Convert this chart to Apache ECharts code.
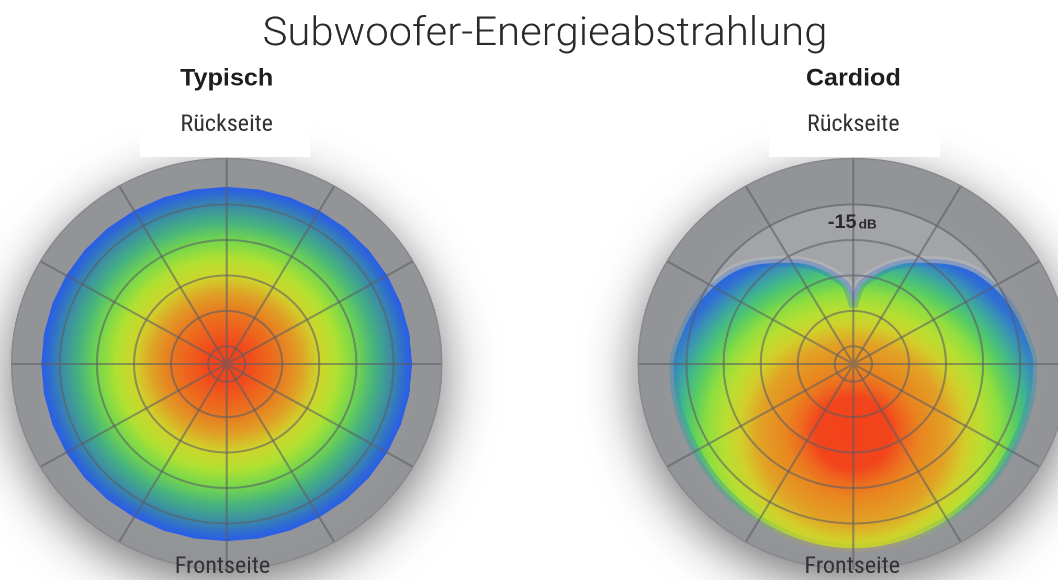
<!DOCTYPE html>
<html><head><meta charset="utf-8">
<script src="https://cdn.jsdelivr.net/npm/echarts@6/dist/echarts.min.js"></script>
<style>
html,body{margin:0;padding:0;background:#fff;overflow:hidden;width:1058px;height:580px}
#chart{width:1011px;height:580px;transform:scaleX(1.0465);transform-origin:0 0;}
</style>
</head><body><div id="chart"></div>
<script>
// ---- texts ----
const chartTitle = 'Subwoofer-Energieabstrahlung';
const panelTitles = ['Typisch', 'Cardiod'];
const rearLabel = 'Rückseite';
const frontLabel = 'Frontseite';
const levelValue = '-15';
const levelUnit = 'dB';

// ---- polar scale (radius in ring units, angle in degrees, 0 = rear/top) ----
const radiusMax = 5.8;
const ringAngles = [0,10,20,30,40,50,60,70,80,90,100,110,120,130,140,150,160,170,180,
                    190,200,210,220,230,240,250,260,270,280,290,300,310,320,330,340,350,360];
const innerLevel = [4.5,4.5,4.5,4.5,4.5,4.5,4.5,4.5,4.5,4.5,4.5,4.5,4.5,4.5,4.5,4.5,4.5,4.5,4.5,
                    4.5,4.5,4.5,4.5,4.5,4.5,4.5,4.5,4.5,4.5,4.5,4.5,4.5,4.5,4.5,4.5,4.5,4.5];

// Typisch (omnidirectional) response
const typischAngles = ringAngles;
const typischLevel = [5.0,5.0,5.0,5.0,5.0,5.0,5.0,5.0,5.0,5.0,5.0,5.0,5.0,5.0,5.0,5.0,5.0,5.0,5.0,
                      5.0,5.0,5.0,5.0,5.0,5.0,5.0,5.0,5.0,5.0,5.0,5.0,5.0,5.0,5.0,5.0,5.0,5.0];

// Cardioid response
const cardAngles = [0,5,10,20,30,40,50,60,70,80,90,100,110,120,130,140,150,160,170,180,
                    190,200,210,220,230,240,250,260,270,280,290,300,310,320,330,340,350,355,360];
const cardLevel = [1.6,2.2,2.45,2.9,3.3,3.7,4.1,4.35,4.55,4.7,4.85,4.87,4.88,4.9,4.95,5.0,5.07,5.13,5.18,5.2,
                   5.18,5.13,5.07,5.0,4.95,4.9,4.88,4.87,4.85,4.7,4.55,4.35,4.1,3.7,3.3,2.9,2.45,2.2,1.6];

// ---- layout (chart space, before horizontal CSS stretch) ----
const centers = [[216.6, 364], [815.4, 364]];
const R = 205.5;
const gridColor = 'rgba(92,93,102,0.58)';
const T = 'rgba(0,0,0,0)';

const leftStops = [
  [0,'#f3421b'],[0.1,'#f2461c'],[0.28,'#eb731f'],[0.4,'#e0a026'],[0.5,'#d0d52b'],
  [0.6,'#b0e132'],[0.7,'#74d74d'],[0.8,'#47b37f'],[0.9,'#3a8aaa'],[0.97,'#2e67d8'],[1,'#2a5ee8']
];
const rightStops = [
  [0,'#f3421b'],[0.18,'#f2451c'],[0.25,'#ee6a1f'],[0.32,'#e9861f'],[0.45,'#e2a226'],
  [0.54,'#d2d02b'],[0.62,'#b8df32'],[0.7,'#8ede40'],[0.77,'#5acd62'],[0.83,'#42b88a'],
  [0.9,'#3a90b8'],[0.95,'#3070d4'],[1,'#2a62e0']
];
const edgeStops = [
  [0,'rgba(40,100,225,0.3)'],[0.3,'rgba(50,140,190,0.35)'],[0.7,'rgba(60,165,150,0.55)'],
  [0.85,'rgba(70,175,130,0.45)'],[0.95,'rgba(150,185,80,0.3)'],[1,'rgba(210,170,50,0.15)']
];

function toData(levels, angles){ return levels.map((r,i)=>[r, angles[i]]); }
function colorStops(s){ return s.map(([o,c])=>({offset:o,color:c})); }

function areaSeries(pi, levels, angles, fill, z, extra){
  return Object.assign({
    type:'line', coordinateSystem:'polar', polarIndex:pi, data:toData(levels, angles),
    showSymbol:false, symbol:'none', silent:true, z:z, animation:false,
    lineStyle:{width:0}, areaStyle:{color:fill, opacity:1}
  }, extra||{});
}

const polar = centers.map(c=>({center:c, radius:R}));
const angleAxis = centers.map((c,i)=>({
  polarIndex:i, type:'value', min:0, max:360, interval:30, startAngle:90, clockwise:true, z:5,
  axisLine:{show:true, lineStyle:{color:'#86878b', width:1.2}},
  axisTick:{show:false}, axisLabel:{show:false},
  splitLine:{show:true, lineStyle:{color:gridColor, width:2}}
}));
const radiusAxis = centers.map((c,i)=>({
  polarIndex:i, type:'value', min:0, max:radiusMax, interval:0.5, z:5,
  axisLine:{show:false}, axisTick:{show:false}, axisLabel:{show:false},
  splitLine:{show:true, lineStyle:{width:2, color:[T,gridColor,T,gridColor,T,gridColor,T,gridColor,T,gridColor,T,T,T]}}
}));

// halo over the rear lobes: the measured cardioid points from 300° round to 60°
const haloIdx = cardAngles.map((a,i)=>i).filter(i=>cardAngles[i]>=300);
const haloIdx2 = cardAngles.map((a,i)=>i).filter(i=>cardAngles[i]<=60 && cardAngles[i]>0);
const haloData = haloIdx.concat(haloIdx2).map(i=>[cardLevel[i], cardAngles[i]]);

const series = [];
centers.forEach((c,i)=>{
  series.push({
    type:'pie', center:c, radius:[0, R], z:0, silent:true, animation:false,
    label:{show:false}, labelLine:{show:false}, data:[{value:1, name:'Gehäuse'}],
    itemStyle:{color:'#95969a', borderColor:'#8a8b8f', borderWidth:1,
      shadowBlur:50, shadowColor:'rgba(0,0,0,0.55)', shadowOffsetY:14}
  });
  series.push(areaSeries(i, innerLevel, ringAngles, '#a3a4a7', 1));
});
series.push(areaSeries(0, typischLevel, typischAngles,
  {type:'radial', x:centers[0][0], y:centers[0][1], r:176.8, global:true, colorStops:colorStops(leftStops)}, 3));
series.push({
  type:'line', coordinateSystem:'polar', polarIndex:1, data:haloData,
  showSymbol:false, symbol:'none', silent:true, smooth:0.35, z:2, animation:false,
  lineStyle:{width:14, color:'rgba(190,190,195,0.45)', cap:'round'}
});
series.push(areaSeries(1, cardLevel, cardAngles,
  {type:'radial', x:centers[1][0], y:433, r:200, global:true, colorStops:colorStops(rightStops)}, 3, {
    smooth:0.35,
    lineStyle:{width:8, color:{type:'linear', x:0, y:262, x2:0, y2:550, global:true, colorStops:colorStops(edgeStops)}}
  }));

function txt(x, y, text, size, weight, family, color){
  return {type:'text', x:x, y:y, z:100, silent:true,
    style:{text:text, fontSize:size, fontWeight:weight, fontFamily:family, fill:color,
           textAlign:'center', textVerticalAlign:'middle'}};
}
const lightFont = "Roboto, 'Liberation Sans', sans-serif";
const narrowFont = "'Liberation Sans Narrow', 'Roboto Condensed', Roboto, sans-serif";
const boldFont = "'Liberation Sans', Arial, sans-serif";

const graphic = [
  {type:'rect', z:90, silent:true, shape:{x:133.8, y:95, width:162.4, height:62}, style:{fill:'#fff'}},
  {type:'rect', z:90, silent:true, shape:{x:734.8, y:95, width:163.4, height:62}, style:{fill:'#fff'}},
  txt(520.8, 35, chartTitle, 40, 300, lightFont, '#2a2a2a'),
  txt(centers[0][0], 79, panelTitles[0], 24, 'bold', boldFont, '#1e1e1e'),
  txt(centers[1][0], 79, panelTitles[1], 24, 'bold', boldFont, '#1e1e1e'),
  txt(centers[0][0], 125, rearLabel, 23, 'normal', narrowFont, '#333'),
  txt(centers[1][0], 125, rearLabel, 23, 'normal', narrowFont, '#333'),
  txt(centers[0][0]-4, 567, frontLabel, 23, 'normal', narrowFont, '#333'),
  txt(centers[1][0]-1, 567, frontLabel, 23, 'normal', narrowFont, '#333'),
  {type:'text', x:centers[1][0]-1, y:223, z:100, silent:true,
   style:{text:'{a|'+levelValue+'}{b|'+levelUnit+'}', textAlign:'center', textVerticalAlign:'middle',
     rich:{a:{fontSize:19, fontWeight:'bold', fontFamily:boldFont, fill:'#2b2b2b', padding:[0,2,0,0]},
           b:{fontSize:13, fontWeight:'bold', fontFamily:boldFont, fill:'#2b2b2b', padding:[4,0,0,0]}}}}
];

const chart = echarts.init(document.getElementById('chart'), null, {devicePixelRatio:2});
chart.setOption({
  animation:false,
  backgroundColor:'#ffffff',
  polar:polar, angleAxis:angleAxis, radiusAxis:radiusAxis,
  series:series, graphic:graphic
});
</script>
</body></html>
